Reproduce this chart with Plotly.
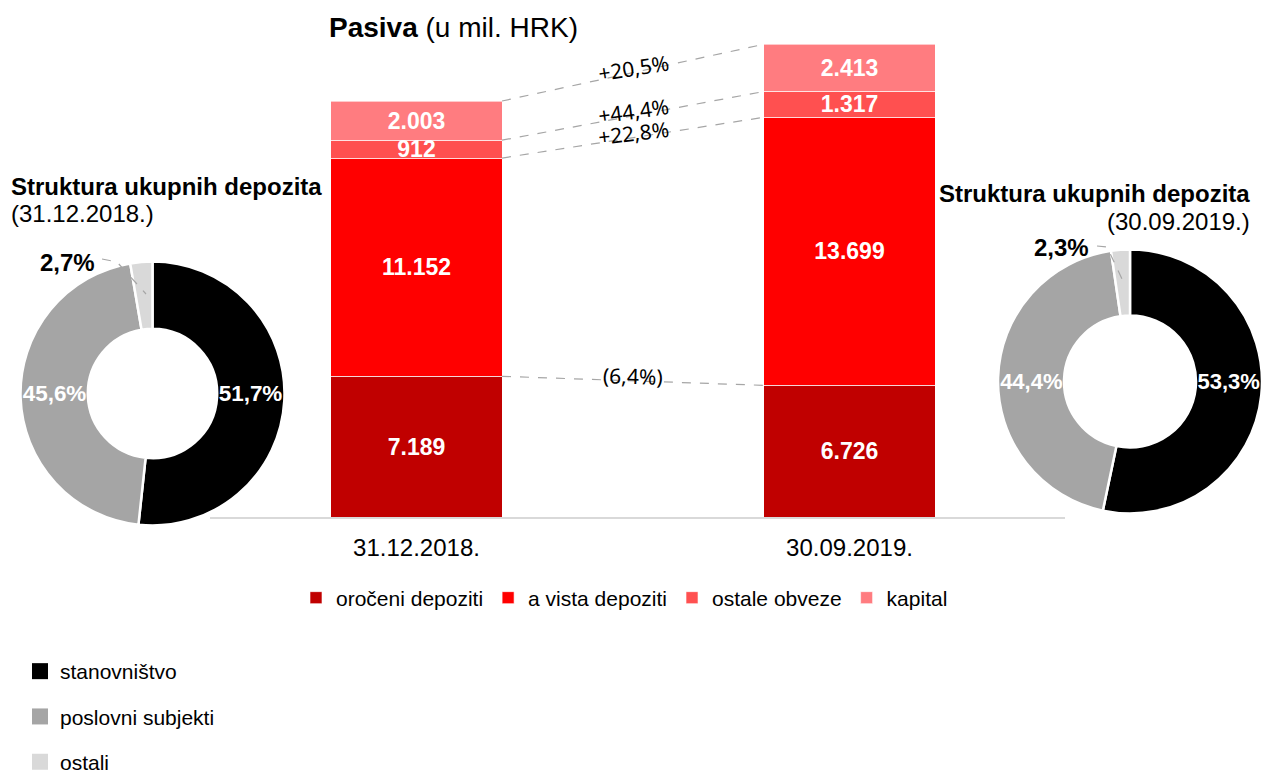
import math
import plotly.graph_objects as go

W, H = 1276, 774

# ---------------- data ----------------
categories = ["31.12.2018.", "30.09.2019."]
series_names = ["oročeni depoziti", "a vista depoziti", "ostale obveze", "kapital"]
oroceni_depoziti = [7189, 6726]
a_vista_depoziti = [11152, 13699]
ostale_obveze = [912, 1317]
kapital = [2003, 2413]
bar_colors = ["#C00000", "#FF0000", "#FF5050", "#FF7C80"]

pie_labels = ["stanovništvo", "poslovni subjekti", "ostali"]
pie_2018 = [51.7, 45.6, 2.7]
pie_2019 = [53.3, 44.4, 2.3]
pie_colors = ["#000000", "#A5A5A5", "#D9D9D9"]

FONT = "Liberation Sans, Arial, sans-serif"
FONT2 = "Noto Sans, Open Sans, sans-serif"


def px_x(x):
    return x / W


def px_y(y):
    return 1 - y / H


def fmt_thousand(v):
    return f"{v:,}".replace(",", ".")


def fmt_pct(v):
    return f"{v:.1f}".replace(".", ",") + "%"


series = [oroceni_depoziti, a_vista_depoziti, ostale_obveze, kapital]
xpos = list(range(len(categories)))
BAR_W = 0.395

fig = go.Figure()

# stacked bars
for name, vals, col in zip(series_names, series, bar_colors):
    fig.add_trace(go.Bar(
        x=xpos, y=vals, name=name, width=BAR_W,
        marker=dict(color=col, line=dict(color="rgba(255,255,255,0.6)", width=1)),
        text=[fmt_thousand(v) for v in vals],
        textposition="inside", insidetextanchor="middle", textangle=0,
        constraintext="none",
        textfont=dict(family=FONT, size=23, color="white", weight="bold"),
        hoverinfo="skip", legend="legend",
    ))

# axis geometry (pixels) used for label angles
x_lo, x_hi = -0.4769, 1.4977
dom_x = [210 / W, 1065 / W]
y_max = 24373
dom_y = [(H - 517) / H, (H - 40) / H]
px_per_x = (dom_x[1] - dom_x[0]) * W / (x_hi - x_lo)
px_per_y = (dom_y[1] - dom_y[0]) * H / y_max

# connector lines between matching segment tops + growth labels
cum = [0, 0]
annotations = []
for vals in series:
    cum = [cum[0] + vals[0], cum[1] + vals[1]]
    xl, xr = BAR_W / 2, 1 - BAR_W / 2
    fig.add_trace(go.Scatter(
        x=[xl, xr], y=[cum[0], cum[1]], mode="lines",
        line=dict(color="#A6A6A6", width=1.2, dash="dash"),
        showlegend=False, hoverinfo="skip",
    ))
    g = vals[1] / vals[0] - 1
    label = ("+" + fmt_pct(g * 100)) if g >= 0 else "(" + fmt_pct(-g * 100) + ")"
    dy = (cum[1] - cum[0]) * px_per_y
    dx = (xr - xl) * px_per_x
    ang = -math.degrees(math.atan2(dy, dx)) * 0.75
    annotations.append(dict(
        x=0.5, y=(cum[0] + cum[1]) / 2, xref="x", yref="y",
        text=label, showarrow=False, textangle=ang, yshift=5,
        font=dict(family=FONT2, size=21, color="#000000"),
    ))

# donuts
fig.add_trace(go.Pie(
    labels=pie_labels, values=pie_2018, sort=False, direction="clockwise", rotation=0,
    hole=0.49, marker=dict(colors=pie_colors, line=dict(color="white", width=2.5)),
    text=[fmt_pct(v) for v in pie_2018], textinfo="text",
    textposition=["inside", "inside", "none"], insidetextorientation="horizontal",
    textfont=dict(family=FONT, size=23, color="white", weight="bold"),
    domain=dict(x=[(152.5 - 132) / W, (152.5 + 132) / W],
                y=[(H - 393.5 - 132) / H, (H - 393.5 + 132) / H]),
    showlegend=False, hoverinfo="skip",
))
fig.add_trace(go.Pie(
    labels=pie_labels, values=pie_2019, sort=False, direction="clockwise", rotation=0,
    hole=0.5, marker=dict(colors=pie_colors, line=dict(color="white", width=2.5)),
    text=[fmt_pct(v) for v in pie_2019], textinfo="text",
    textposition=["inside", "inside", "none"], insidetextorientation="horizontal",
    textfont=dict(family=FONT, size=23, color="white", weight="bold"),
    domain=dict(x=[(1130 - 132) / W, (1130 + 132) / W],
                y=[(H - 381.5 - 132) / H, (H - 381.5 + 132) / H]),
    showlegend=False, hoverinfo="skip",
))

# legend entries for donut categories
for i, (lab, col) in enumerate(zip(pie_labels, pie_colors)):
    fig.add_trace(go.Scatter(
        x=[None], y=[None], mode="markers", name=lab,
        marker=dict(symbol="square", size=16, color=col),
        legend="legend2", legendgroup=f"p{i}", showlegend=True,
    ))

# text annotations
annotations += [
    dict(x=px_x(453.5), y=px_y(28), xref="paper", yref="paper",
         text="<b>Pasiva</b> (u mil. HRK)", showarrow=False,
         xanchor="center", yanchor="middle",
         font=dict(family=FONT, size=28, color="#000000")),
    dict(x=px_x(9), y=px_y(186), xref="paper", yref="paper",
         text="<b>Struktura ukupnih depozita</b>", showarrow=False,
         xanchor="left", yanchor="middle",
         font=dict(family=FONT, size=24, color="#000000")),
    dict(x=px_x(9), y=px_y(214), xref="paper", yref="paper",
         text="(" + categories[0] + ")", showarrow=False,
         xanchor="left", yanchor="middle",
         font=dict(family=FONT, size=24, color="#000000")),
    dict(x=px_x(1252), y=px_y(193), xref="paper", yref="paper",
         text="<b>Struktura ukupnih depozita</b>", showarrow=False,
         xanchor="right", yanchor="middle",
         font=dict(family=FONT, size=24, color="#000000")),
    dict(x=px_x(1252), y=px_y(221), xref="paper", yref="paper",
         text="(" + categories[1] + ")", showarrow=False,
         xanchor="right", yanchor="middle",
         font=dict(family=FONT, size=24, color="#000000")),
    dict(x=px_x(67.5), y=px_y(262), xref="paper", yref="paper",
         text="<b>" + fmt_pct(pie_2018[2]) + "</b>", showarrow=False,
         xanchor="center", yanchor="middle",
         font=dict(family=FONT, size=24, color="#000000")),
    dict(x=px_x(1061), y=px_y(248), xref="paper", yref="paper",
         text="<b>" + fmt_pct(pie_2019[2]) + "</b>", showarrow=False,
         xanchor="center", yanchor="middle",
         font=dict(family=FONT, size=24, color="#000000")),
]


def path(points):
    return "M " + " L ".join(f"{px_x(a):.5f},{px_y(b):.5f}" for a, b in points)


shapes = [
    dict(type="path", xref="paper", yref="paper",
         path=path([(102, 259), (117, 262), (146, 294)]),
         line=dict(color="#A6A6A6", width=1.2, dash="dash")),
    dict(type="path", xref="paper", yref="paper",
         path=path([(1097, 246), (1107, 247), (1123, 281)]),
         line=dict(color="#A6A6A6", width=1.2, dash="dash")),
]

fig.update_layout(
    width=W, height=H, autosize=False,
    margin=dict(l=0, r=0, t=0, b=0, autoexpand=False),
    paper_bgcolor="white", plot_bgcolor="white",
    barmode="stack",
    font=dict(family=FONT, color="#000000"),
    xaxis=dict(domain=dom_x, range=[x_lo, x_hi], tickvals=xpos, ticktext=categories,
               showgrid=False, zeroline=False, showline=True, linecolor="#D9D9D9",
               linewidth=1.5, ticks="outside", ticklen=8, tickcolor="rgba(0,0,0,0)",
               tickfont=dict(family=FONT, size=24, color="#000000"), fixedrange=True,
               automargin=False),
    yaxis=dict(domain=dom_y, range=[0, y_max], visible=False, showgrid=False,
               zeroline=False, fixedrange=True, automargin=False),
    legend=dict(orientation="h", x=px_x(296), y=px_y(598), xanchor="left",
                yanchor="middle", font=dict(family=FONT, size=21, color="#000000"),
                bgcolor="rgba(0,0,0,0)", traceorder="normal"),
    legend2=dict(orientation="v", x=px_x(20), y=px_y(651), xanchor="left",
                 yanchor="top", font=dict(family=FONT, size=21, color="#000000"),
                 bgcolor="rgba(0,0,0,0)", tracegroupgap=15),
    annotations=annotations,
    shapes=shapes,
    showlegend=True,
)

fig.write_html("out.html", config={"displayModeBar": False},
               post_script="document.body.style.margin='0';")
